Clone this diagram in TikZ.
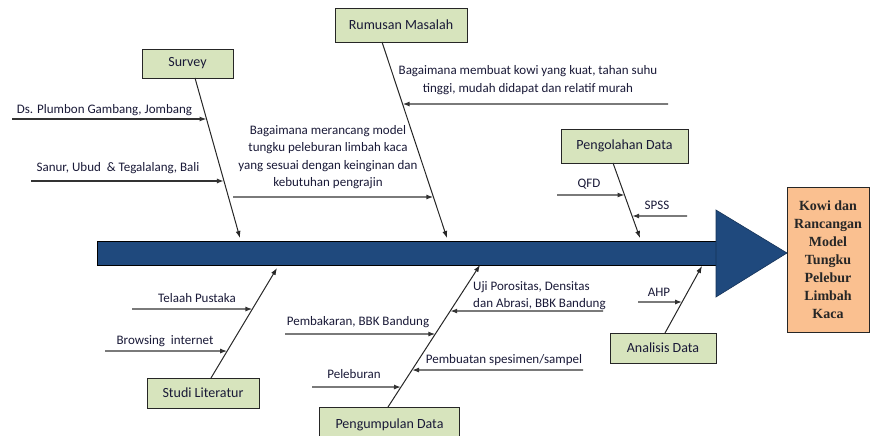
\documentclass[tikz,border=0pt]{standalone}
\usepackage{fontspec}
\setmainfont{Carlito}
\newfontfamily\resfont{Liberation Serif}
\usetikzlibrary{arrows.meta}
\definecolor{boxgreen}{RGB}{215,228,189}
\definecolor{resorange}{RGB}{250,192,144}
\definecolor{spineblue}{RGB}{31,73,125}
\definecolor{txt}{RGB}{25,25,55}
\tikzset{
  catbox/.style={draw=black!85, line width=0.9pt, fill=boxgreen, font=\fontsize{14}{17}\selectfont, text=txt, inner sep=0pt},
  lbl/.style={font=\fontsize{13}{17.5}\selectfont, text=txt, inner sep=0pt, align=center},
  bone/.style={draw=black!85, line width=1pt, -{Latex[length=7pt,width=5pt]}},
  subarr/.style={draw=black!80, line width=1.3pt, -{Latex[length=7pt,width=5pt]}},
}
\begin{document}
\begin{tikzpicture}[x=1pt,y=-1pt]
\useasboundingbox (0,0) rectangle (871,436);
\clip (0,0) rectangle (871,436);

% spine and head
\node (spine) [draw=black, line width=0.8pt, fill=spineblue, minimum width=620pt, minimum height=24pt, inner sep=0pt] at (407,253) {};
\coordinate (hdA) at (716,210);
\coordinate (hdTip) at (787,253);
\coordinate (hdB) at (716,297);
\draw[fill=spineblue, draw=spineblue!70!black, line width=0.6pt] (hdA) -- (hdTip) -- (hdB) -- cycle;

% result
\node (res) [draw=black!85, line width=0.9pt, fill=resorange, minimum width=82pt, minimum height=145pt, inner sep=0pt, align=center, text=black!85, font=\resfont\bfseries\fontsize{14}{18}\selectfont] at (828,259.5) {Kowi dan\\Rancangan\\Model\\Tungku\\Pelebur\\Limbah\\Kaca};

% category boxes
\node (survey) [catbox, minimum width=91pt, minimum height=29pt] at (187.5,63.5) {Survey};
\node (rumusan) [catbox, minimum width=132pt, minimum height=34pt] at (401,25) {Rumusan Masalah};
\node (olah) [catbox, minimum width=127pt, minimum height=34pt] at (624.5,146) {Pengolahan Data};
\node (analisis) [catbox, minimum width=106pt, minimum height=30pt] at (663,348) {Analisis Data};
\node (studi) [catbox, minimum width=112pt, minimum height=30pt] at (203,393) {Studi Literatur};
\node (kumpul) [catbox, minimum width=140pt, minimum height=36pt] at (389.5,425) {Pengumpulan Data};

% bones
\coordinate (svS) at (195,78);  \coordinate (svT) at (240,238);
\coordinate (rmS) at (382,42);  \coordinate (rmT) at (447,238);
\coordinate (plS) at (613,163); \coordinate (plT) at (640,238);
\coordinate (anS) at (665,333); \coordinate (anT) at (702,266);
\coordinate (stS) at (211,378); \coordinate (stT) at (277,268);
\coordinate (pgS) at (388,407); \coordinate (pgT) at (480,265);
\draw[bone] (svS) -- (svT);
\draw[bone] (rmS) -- (rmT);
\draw[bone] (plS) -- (plT);
\draw[bone] (anS) -- (anT);
\draw[bone] (stS) -- (stT);
\draw[bone] (pgS) -- (pgT);

% Survey causes
\coordinate (dsA) at (12,119);
\coordinate (dsB) at (intersection of svS--svT and 0,119--800,119);
\draw[subarr] (dsA) -- (dsB);
\node (dsL) [lbl] at (104.5,110) {Ds. Plumbon Gambang, Jombang};
\coordinate (snA) at (31,181);
\coordinate (snB) at (intersection of svS--svT and 0,181--800,181);
\draw[subarr] (snA) -- (snB);
\node (snL) [lbl] at (118,168) {Sanur, Ubud~ \& Tegalalang, Bali};

% Rumusan causes
\coordinate (kwA) at (668,104);
\coordinate (kwB) at (intersection of rmS--rmT and 0,104--800,104);
\draw[subarr] (kwA) -- (kwB);
\node (kwL) [lbl] at (528,80) {Bagaimana membuat kowi yang kuat, tahan suhu\\tinggi, mudah didapat dan relatif murah};
\coordinate (mrA) at (233,197);
\coordinate (mrB) at (intersection of rmS--rmT and 0,197--800,197);
\draw[subarr] (mrA) -- (mrB);
\node (mrL) [lbl] at (328,157) {Bagaimana merancang model\\tungku peleburan limbah kaca\\yang sesuai dengan keinginan dan\\kebutuhan pengrajin};

% Pengolahan causes
\coordinate (qfA) at (557,195);
\coordinate (qfB) at (intersection of plS--plT and 0,195--800,195);
\draw[subarr] (qfA) -- (qfB);
\node (qfL) [lbl] at (589,184) {QFD};
\coordinate (spA) at (687,216);
\coordinate (spB) at (intersection of plS--plT and 0,216--800,216);
\draw[subarr] (spA) -- (spB);
\node (spL) [lbl] at (657,205) {SPSS};

% Analisis causes
\coordinate (ahA) at (638,302);
\coordinate (ahB) at (intersection of anS--anT and 0,302--800,302);
\draw[subarr] (ahA) -- (ahB);
\node (ahL) [lbl] at (659,292) {AHP};

% Studi causes
\coordinate (tlA) at (132,309);
\coordinate (tlB) at (intersection of stS--stT and 0,309--800,309);
\draw[subarr] (tlA) -- (tlB);
\node (tlL) [lbl] at (197,298) {Telaah Pustaka};
\coordinate (brA) at (105,351);
\coordinate (brB) at (intersection of stS--stT and 0,351--800,351);
\draw[subarr] (brA) -- (brB);
\node (brL) [lbl] at (165,341) {Browsing~ internet};

% Pengumpulan causes
\coordinate (pbA) at (285,334);
\coordinate (pbB) at (intersection of pgS--pgT and 0,334--800,334);
\draw[subarr] (pbA) -- (pbB);
\node (pbL) [lbl] at (358,322) {Pembakaran, BBK Bandung};
\coordinate (plbA) at (312,387);
\coordinate (plbB) at (intersection of pgS--pgT and 0,387--800,387);
\draw[subarr] (plbA) -- (plbB);
\node (plbL) [lbl] at (354,374) {Peleburan};
\coordinate (ujA) at (603,311);
\coordinate (ujB) at (intersection of pgS--pgT and 0,311--800,311);
\draw[subarr] (ujA) -- (ujB);
\node (ujL) [lbl, align=left, anchor=west] at (473,295.5) {Uji Porositas, Densitas\\dan Abrasi, BBK Bandung};
\coordinate (pmA) at (583,370);
\coordinate (pmB) at (intersection of pgS--pgT and 0,370--800,370);
\draw[subarr] (pmA) -- (pmB);
\node (pmL) [lbl] at (504,360) {Pembuatan spesimen/sampel};
\end{tikzpicture}
\end{document}
